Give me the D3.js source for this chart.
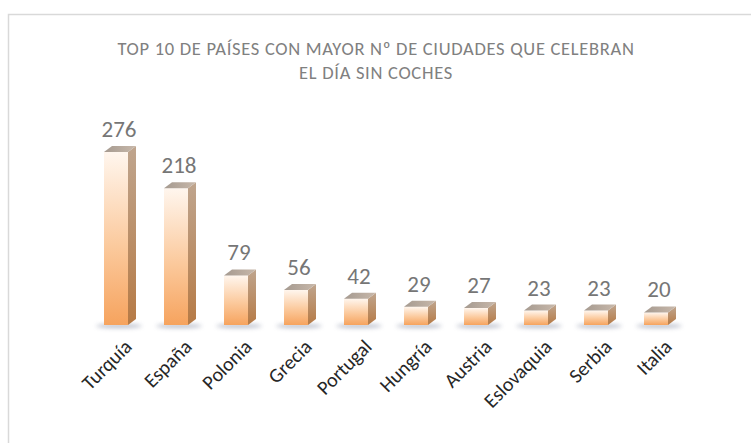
<!DOCTYPE html>
<html>
<head>
<meta charset="utf-8">
<script src="https://cdn.jsdelivr.net/npm/d3@7"></script>
<style>
  body { margin: 0; background: #fff; }
  svg { display: block; }
</style>
</head>
<body>
<div id="chart"></div>
<script>
var countries = ["Turquía", "España", "Polonia", "Grecia", "Portugal", "Hungría", "Austria", "Eslovaquia", "Serbia", "Italia"]
var cities = [276, 218, 79, 56, 42, 29, 27, 23, 23, 20]
var titleLines = ["TOP 10 DE PAÍSES CON MAYOR Nº DE CIUDADES QUE CELEBRAN", "EL DÍA SIN COCHES"]

var width = 751, height = 443
var font = "Carlito, Calibri, Lato, sans-serif"
var depthX = 8, depthY = 6

var svg = d3.select("#chart")
    .append("svg")
    .attr("width", width)
    .attr("height", height)

var defs = svg.append("defs")

var front = defs.append("linearGradient").attr("id", "front")
    .attr("x1", 0).attr("y1", 0).attr("x2", 0).attr("y2", 1)
front.append("stop").attr("offset", 0).attr("stop-color", "#fff6ee")
front.append("stop").attr("offset", 0.55).attr("stop-color", "#fbc99c")
front.append("stop").attr("offset", 1).attr("stop-color", "#f6a35e")

var side = defs.append("linearGradient").attr("id", "side")
    .attr("x1", 0).attr("y1", 0).attr("x2", 0).attr("y2", 1)
side.append("stop").attr("offset", 0).attr("stop-color", "#bfa58e")
side.append("stop").attr("offset", 1).attr("stop-color", "#b67a45")

var top_ = defs.append("linearGradient").attr("id", "topface")
    .attr("x1", 0).attr("y1", 0).attr("x2", 1).attr("y2", 0)
top_.append("stop").attr("offset", 0).attr("stop-color", "#a59a90")
top_.append("stop").attr("offset", 1).attr("stop-color", "#c8b8aa")

defs.append("filter").attr("id", "blur")
    .attr("x", "-50%").attr("y", "-200%").attr("width", "200%").attr("height", "500%")
    .append("feGaussianBlur").attr("stdDeviation", 2.2)

// chart border
svg.append("rect")
    .attr("x", 8.5).attr("y", 14.5)
    .attr("width", 760).attr("height", 440)
    .attr("fill", "none")
    .attr("stroke", "#d9d9d9")
    .attr("stroke-width", 1.5)

// title
svg.append("g").selectAll("text")
    .data(titleLines)
    .enter()
    .append("text")
    .attr("x", 376)
    .attr("y", (d, i) => 55 + i * 24)
    .attr("text-anchor", "middle")
    .attr("fill", "#808080")
    .attr("font-family", font)
    .attr("font-size", 18.5)
    .attr("letter-spacing", 0.7)
    .text(d => d)

var x = d3.scaleBand()
    .domain(countries)
    .range([86, 686])
    .paddingInner(0.6)
    .paddingOuter(0.3)

var y = d3.scaleLinear()
    .domain([0, 276])
    .range([325, 152])

var data = countries.map((c, i) => ({name: c, value: cities[i]}))

var bars = svg.append("g").selectAll("g")
    .data(data)
    .enter()
    .append("g")

// floor shadow
bars.append("ellipse")
    .attr("cx", d => x(d.name) + x.bandwidth() / 2 + 3)
    .attr("cy", y(0) + 1)
    .attr("rx", x.bandwidth() * 0.95)
    .attr("ry", 2)
    .attr("fill", "#9aa0b4")
    .attr("opacity", 0.7)
    .attr("filter", "url(#blur)")

bars.append("rect")
    .attr("x", d => x(d.name))
    .attr("y", d => y(d.value))
    .attr("width", x.bandwidth())
    .attr("height", d => y(0) - y(d.value))
    .attr("fill", "url(#front)")

bars.append("path")
    .attr("d", d => {
        var x1 = x(d.name) + x.bandwidth(), y1 = y(d.value), y0 = y(0)
        return "M" + x1 + "," + y1 + "L" + (x1 + depthX) + "," + (y1 - depthY) +
            "L" + (x1 + depthX) + "," + (y0 - depthY) + "L" + x1 + "," + y0 + "Z"
    })
    .attr("fill", "url(#side)")

bars.append("path")
    .attr("d", d => {
        var x0 = x(d.name), x1 = x0 + x.bandwidth(), y1 = y(d.value)
        return "M" + x0 + "," + y1 + "L" + (x0 + depthX) + "," + (y1 - depthY) +
            "L" + (x1 + depthX) + "," + (y1 - depthY) + "L" + x1 + "," + y1 + "Z"
    })
    .attr("fill", "url(#topface)")

// value labels
bars.append("text")
    .attr("x", d => x(d.name) + x.bandwidth() / 2 + 3)
    .attr("y", d => y(d.value) - 15)
    .attr("text-anchor", "middle")
    .attr("fill", "#767676")
    .attr("font-family", font)
    .attr("font-size", 23)
    .text(d => d.value)

// category labels
svg.append("g").selectAll("text")
    .data(data)
    .enter()
    .append("text")
    .attr("transform", d => "translate(" + (x(d.name) + x.bandwidth() / 2 + 17) + "," + 348 + ") rotate(-45)")
    .attr("text-anchor", "end")
    .attr("fill", "#262626")
    .attr("font-family", font)
    .attr("font-size", 20)
    .text(d => d.name)
</script>
</body>
</html>
